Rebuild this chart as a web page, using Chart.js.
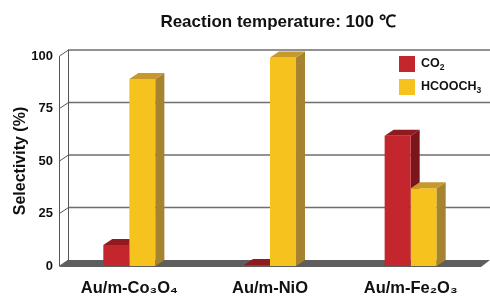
<!DOCTYPE html>
<html>
<head>
<meta charset="utf-8">
<script src="https://cdn.jsdelivr.net/npm/chart.js@4.4.0/dist/chart.umd.min.js"></script>
<style>
html, body { margin: 0; padding: 0; background: #fff; }
#wrap { position: relative; width: 490px; height: 301px; }
</style>
</head>
<body>
<div id="wrap"><canvas id="myChart"></canvas></div>
<script>
const catalysts = ['Au/m-Co₃O₄', 'Au/m-NiO', 'Au/m-Fe₂O₃'];
const seriesNames = ['CO₂', 'HCOOCH₃'];
const co2 = [10, 0.5, 62];
const hcooch3 = [89, 99.3, 37];
const yTicks = [0, 25, 50, 75, 100];

const DX = 9, DY = 6;
const faces = [
  { front: '#c3262d', top: '#8f1b20', side: '#7a151a' },
  { front: '#f6c21e', top: '#c7982b', side: '#a6832f' }
];
const FONT = '"Liberation Sans", Arial, sans-serif';
const SUBS = '₀₁₂₃₄₅₆₇₈₉';

function poly(ctx, pts, color) {
  ctx.beginPath();
  ctx.moveTo(pts[0][0], pts[0][1]);
  for (let i = 1; i < pts.length; i++) ctx.lineTo(pts[i][0], pts[i][1]);
  ctx.closePath();
  ctx.fillStyle = color;
  ctx.fill();
}

// top and right side of a bar, so it looks like a box
function drawBox(ctx, bar, f) {
  const l = bar.x - bar.width / 2, r = bar.x + bar.width / 2;
  const t = bar.y, b = bar.base;
  poly(ctx, [[r, t], [r + DX, t - DY], [r + DX, b - DY], [r, b]], f.side);
  poly(ctx, [[l, t], [r, t], [r + DX, t - DY], [l + DX, t - DY]], f.top);
}

// text with real-looking subscripts (smaller, lowered digits)
function subText(ctx, str, x, y, size) {
  for (const ch of str) {
    const k = SUBS.indexOf(ch);
    if (k >= 0) {
      ctx.font = 'bold ' + (size * 0.68) + 'px ' + FONT;
      ctx.fillText(String(k), x, y + size * 0.3);
      x += ctx.measureText(String(k)).width;
    } else {
      ctx.font = 'bold ' + size + 'px ' + FONT;
      ctx.fillText(ch, x, y);
      x += ctx.measureText(ch).width;
    }
  }
}

const wall3d = {
  id: 'wall3d',
  beforeDatasetsDraw(chart) {
    const { ctx, chartArea: a, scales: { y } } = chart;
    ctx.save();
    // back wall grid
    ctx.strokeStyle = '#6e6e6e';
    ctx.lineWidth = 1.6;
    yTicks.forEach(v => {
      if (v === 0) return;
      const py = y.getPixelForValue(v) - DY;
      ctx.beginPath();
      ctx.moveTo(a.left + DX, py);
      ctx.lineTo(a.right + DX, py);
      ctx.stroke();
    });
    // left wall
    ctx.strokeStyle = '#555';
    ctx.lineWidth = 1;
    const yTop = y.getPixelForValue(100), yBot = y.getPixelForValue(0);
    ctx.beginPath();
    ctx.moveTo(a.left + 0.5, yTop); ctx.lineTo(a.left + 0.5, yBot);
    ctx.moveTo(a.left + DX + 0.5, yTop - DY); ctx.lineTo(a.left + DX + 0.5, yBot - DY);
    yTicks.forEach(v => {
      const py = y.getPixelForValue(v);
      ctx.moveTo(a.left + 0.5, py); ctx.lineTo(a.left + DX + 0.5, py - DY);
    });
    ctx.stroke();
    // floor
    poly(ctx, [[a.left, yBot + 1], [a.right, yBot + 1], [a.right + DX, yBot - DY], [a.left + DX, yBot - DY]], '#5e5e5e');
    chart.getDatasetMeta(0).data.forEach(bar => drawBox(ctx, bar, faces[0]));
    ctx.restore();
  },
  afterDatasetsDraw(chart) {
    const ctx = chart.ctx;
    ctx.save();
    chart.getDatasetMeta(1).data.forEach(bar => drawBox(ctx, bar, faces[1]));
    ctx.restore();
  },
  afterDraw(chart) {
    const ctx = chart.ctx;
    ctx.save();
    ctx.fillStyle = '#111';
    ctx.textAlign = 'center';
    ctx.textBaseline = 'middle';
    ctx.font = 'bold 17px ' + FONT;
    ctx.fillText('Reaction temperature: 100 ℃', 278, 22);
    // legend
    ctx.textAlign = 'left';
    chart.data.datasets.forEach((ds, i) => {
      const top = 56 + i * 23;
      ctx.fillStyle = ds.backgroundColor;
      ctx.fillRect(399, top, 16, 16);
      ctx.fillStyle = '#111';
      subText(ctx, ds.label, 421, top + 8, 12.5);
    });
    ctx.restore();
  }
};

new Chart(document.getElementById('myChart'), {
  type: 'bar',
  data: {
    labels: catalysts,
    datasets: [
      { label: seriesNames[0], data: co2, backgroundColor: faces[0].front },
      { label: seriesNames[1], data: hcooch3, backgroundColor: faces[1].front }
    ]
  },
  options: {
    responsive: true,
    maintainAspectRatio: false,
    animation: false,
    layout: { padding: { top: 56, right: 9, left: 0, bottom: 0 } },
    plugins: { legend: { display: false }, tooltip: { enabled: false } },
    datasets: { bar: { categoryPercentage: 0.37, barPercentage: 1 } },
    scales: {
      x: {
        grid: { display: false, drawTicks: false },
        border: { display: false },
        ticks: { color: '#111', padding: 13, font: { family: FONT, size: 16.5, weight: 'bold' } },
        afterFit(s) { s.height = 35; }
      },
      y: {
        min: 0, max: 100,
        grid: { display: false, drawTicks: false },
        border: { display: false },
        afterBuildTicks(s) { s.ticks = yTicks.map(v => ({ value: v })); },
        ticks: { color: '#111', padding: 6, font: { family: FONT, size: 13, weight: 'bold' } },
        title: { display: true, text: 'Selectivity (%)', color: '#111', padding: { top: 11, bottom: 0 },
                 font: { family: FONT, size: 16, weight: 'bold' } },
        afterFit(s) { s.width = 59; }
      }
    }
  },
  plugins: [wall3d]
});
</script>
</body>
</html>
